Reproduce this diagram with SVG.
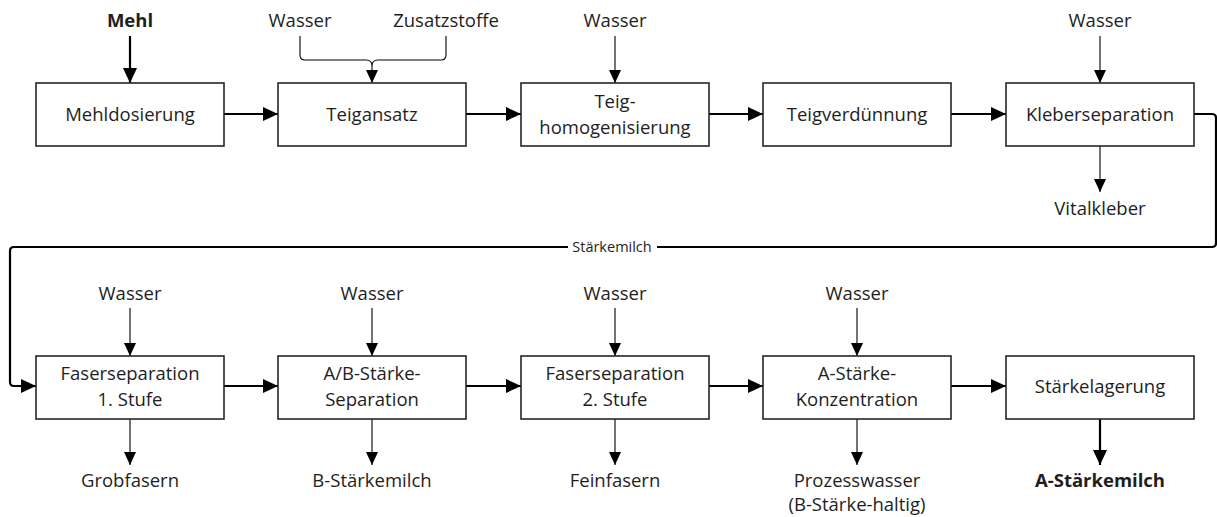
<svg xmlns="http://www.w3.org/2000/svg" width="1217" height="517" viewBox="0 0 1217 517">
  <style>
    .box { fill: #ffffff; stroke: #262626; stroke-width: 1.6; }
    .lbl { font-family: "Open Sans", "Noto Sans", "Liberation Sans", sans-serif; font-size: 18.5px; fill: #1e1e1e; text-anchor: middle; }
    .bold { font-weight: bold; }
    .small { font-size: 14.5px; }
    .thick { fill: none; stroke: #000000; stroke-width: 2.2; }
    .thin { fill: none; stroke: #000000; stroke-width: 1.1; }
    .ah { marker-end: url(#headBig); }
    .ahs { marker-end: url(#headSmall); }
  </style>
  <defs>
    <marker id="headBig" markerUnits="userSpaceOnUse" markerWidth="16" markerHeight="15" refX="15" refY="7" orient="auto">
      <path d="M0,0 L15,7 L0,14 z" fill="#000000"/>
    </marker>
    <marker id="headSmall" markerUnits="userSpaceOnUse" markerWidth="14" markerHeight="13" refX="13" refY="6" orient="auto">
      <path d="M0,0 L13,6 L0,12 z" fill="#000000"/>
    </marker>
  </defs>

  <rect width="1217" height="517" fill="#ffffff"/>

  <!-- connectors -->
  <g id="connectors">
    <!-- inputs, top row -->
    <path class="thick ah" d="M130,36 V83"/>
    <path class="thin" d="M300,36 V55 Q300,60 305,60 H366 Q372,60 372,66 Q372,60 378,60 H441 Q446,60 446,55 V36"/>
    <path class="thin ahs" d="M372,66 V83"/>
    <path class="thin ahs" d="M615,36 V83"/>
    <path class="thin ahs" d="M1100,36 V83"/>
    <!-- main flow, top row -->
    <path class="thick ah" d="M224,114 H278"/>
    <path class="thick ah" d="M466,114 H521"/>
    <path class="thick ah" d="M709,114 H763"/>
    <path class="thick ah" d="M951,114 H1006"/>
    <!-- output, top row -->
    <path class="thin ahs" d="M1100,146 V192"/>
    <!-- return line to second row -->
    <path class="thick ah" d="M1194,114 H1212 Q1216,114 1216,118 V243 Q1216,247 1212,247 H14 Q10,247 10,251 V382 Q10,386 14,386 H36"/>
    <rect x="568" y="239" width="89" height="16" fill="#ffffff"/>
    <text class="lbl small" x="612" y="252">Stärkemilch</text>
    <!-- inputs, bottom row -->
    <path class="thin ahs" d="M130,308 V356"/>
    <path class="thin ahs" d="M372,308 V356"/>
    <path class="thin ahs" d="M615,308 V356"/>
    <path class="thin ahs" d="M857,308 V356"/>
    <!-- main flow, bottom row -->
    <path class="thick ah" d="M224,386 H278"/>
    <path class="thick ah" d="M466,386 H521"/>
    <path class="thick ah" d="M709,386 H763"/>
    <path class="thick ah" d="M951,386 H1006"/>
    <!-- outputs, bottom row -->
    <path class="thin ahs" d="M130,419 V465"/>
    <path class="thin ahs" d="M372,419 V465"/>
    <path class="thin ahs" d="M615,419 V465"/>
    <path class="thin ahs" d="M857,419 V465"/>
    <path class="thick ah" d="M1100,419 V465"/>
  </g>

  <!-- stream labels -->
  <g id="streams">
    <text class="lbl bold" x="130" y="27">Mehl</text>
    <text class="lbl" x="300" y="27">Wasser</text>
    <text class="lbl" x="446" y="27">Zusatzstoffe</text>
    <text class="lbl" x="615" y="27">Wasser</text>
    <text class="lbl" x="1100" y="27">Wasser</text>
    <text class="lbl" x="1100" y="215">Vitalkleber</text>
    <text class="lbl" x="130" y="300">Wasser</text>
    <text class="lbl" x="372" y="300">Wasser</text>
    <text class="lbl" x="615" y="300">Wasser</text>
    <text class="lbl" x="857" y="300">Wasser</text>
    <text class="lbl" x="130" y="487">Grobfasern</text>
    <text class="lbl" x="372" y="487">B-Stärkemilch</text>
    <text class="lbl" x="615" y="487">Feinfasern</text>
    <text class="lbl" x="857" y="487">Prozesswasser</text>
    <text class="lbl" x="857" y="511">(B-Stärke-haltig)</text>
    <text class="lbl bold" x="1100" y="487">A-Stärkemilch</text>
  </g>

  <!-- process steps, top row -->
  <g id="mehldosierung">
    <rect class="box" x="36" y="83" width="188" height="63"/>
    <text class="lbl" x="130" y="121">Mehldosierung</text>
  </g>
  <g id="teigansatz">
    <rect class="box" x="278" y="83" width="188" height="63"/>
    <text class="lbl" x="372" y="121">Teigansatz</text>
  </g>
  <g id="teighomogenisierung">
    <rect class="box" x="521" y="83" width="188" height="63"/>
    <text class="lbl" x="615" y="108">Teig-</text>
    <text class="lbl" x="615" y="134">homogenisierung</text>
  </g>
  <g id="teigverduennung">
    <rect class="box" x="763" y="83" width="188" height="63"/>
    <text class="lbl" x="857" y="121">Teigverdünnung</text>
  </g>
  <g id="kleberseparation">
    <rect class="box" x="1006" y="83" width="188" height="63"/>
    <text class="lbl" x="1100" y="121">Kleberseparation</text>
  </g>

  <!-- process steps, bottom row -->
  <g id="faserseparation1">
    <rect class="box" x="36" y="356" width="188" height="63"/>
    <text class="lbl" x="130" y="380">Faserseparation</text>
    <text class="lbl" x="130" y="406">1. Stufe</text>
  </g>
  <g id="abstaerkeseparation">
    <rect class="box" x="278" y="356" width="188" height="63"/>
    <text class="lbl" x="372" y="380">A/B-Stärke-</text>
    <text class="lbl" x="372" y="406">Separation</text>
  </g>
  <g id="faserseparation2">
    <rect class="box" x="521" y="356" width="188" height="63"/>
    <text class="lbl" x="615" y="380">Faserseparation</text>
    <text class="lbl" x="615" y="406">2. Stufe</text>
  </g>
  <g id="astaerkekonzentration">
    <rect class="box" x="763" y="356" width="188" height="63"/>
    <text class="lbl" x="857" y="380">A-Stärke-</text>
    <text class="lbl" x="857" y="406">Konzentration</text>
  </g>
  <g id="staerkelagerung">
    <rect class="box" x="1006" y="356" width="188" height="63"/>
    <text class="lbl" x="1100" y="393">Stärkelagerung</text>
  </g>
</svg>
